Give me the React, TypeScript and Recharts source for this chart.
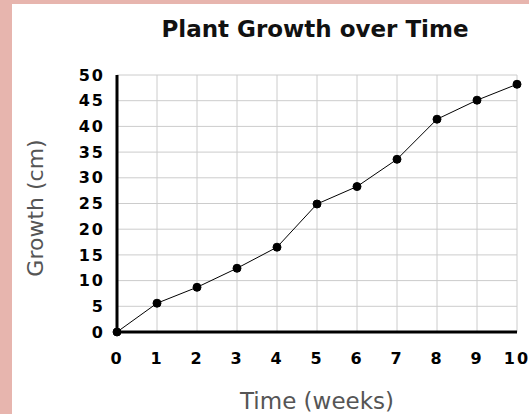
import React from 'react'
import { LineChart, Line, XAxis, YAxis, CartesianGrid } from 'recharts'

const WEEKS = [0, 1, 2, 3, 4, 5, 6, 7, 8, 9, 10]
const GROWTH = [0, 5.6, 8.7, 12.4, 16.5, 24.9, 28.3, 33.6, 41.4, 45.1, 48.2]
const X_TICKS = [0, 1, 2, 3, 4, 5, 6, 7, 8, 9, 10]
const Y_TICKS = [0, 5, 10, 15, 20, 25, 30, 35, 40, 45, 50]

const TITLE = 'Plant Growth over Time'
const X_LABEL = 'Time (weeks)'
const Y_LABEL = 'Growth (cm)'

const data = WEEKS.map((w, i) => ({ week: w, growth: GROWTH[i] }))

const tickStyle = {
  fill: '#000',
  fontFamily: 'DejaVu Sans',
  fontWeight: 'bold' as const,
  fontSize: 16,
  letterSpacing: 2,
}

export default function App() {
  return (
    <div
      style={{
        position: 'absolute',
        left: 0,
        top: 0,
        width: 529,
        height: 414,
        background: '#e7b5ae',
        overflow: 'hidden',
      }}
    >
      <div style={{ position: 'absolute', left: 12, top: 4, width: 517, height: 410, background: '#fff' }}>
        <LineChart width={517} height={410} data={data} margin={{ top: 71, right: 12, bottom: 42, left: 45 }}>
          <CartesianGrid stroke="#cccccc" strokeWidth={1} />
          <XAxis
            dataKey="week"
            type="number"
            domain={[0, 10]}
            ticks={X_TICKS}
            height={40}
            axisLine={{ stroke: '#000', strokeWidth: 3 }}
            tickLine={false}
            tickSize={0}
            tickMargin={21}
            tick={tickStyle}
            interval={0}
          />
          <YAxis
            type="number"
            domain={[0, 50]}
            ticks={Y_TICKS}
            width={60}
            axisLine={{ stroke: '#000', strokeWidth: 3 }}
            tickLine={false}
            tickSize={0}
            tickMargin={12}
            tick={tickStyle}
            interval={0}
          />
          <Line
            dataKey="growth"
            stroke="#000"
            strokeWidth={1}
            dot={{ r: 4, fill: '#000', stroke: '#000', strokeWidth: 1 }}
            isAnimationActive={false}
          />
        </LineChart>
      </div>
      <svg
        width={529}
        height={414}
        style={{ position: 'absolute', left: 0, top: 0, pointerEvents: 'none' }}
      >
        <text x={315} y={37} textAnchor="middle" fontFamily="DejaVu Sans" fontWeight="bold" fontSize={23} fill="#111">
          {TITLE}
        </text>
        <text x={317} y={409} textAnchor="middle" fontFamily="DejaVu Sans" fontSize={23} fill="#555">
          {X_LABEL}
        </text>
        <text
          x={43}
          y={208}
          textAnchor="middle"
          fontFamily="DejaVu Sans"
          fontSize={22}
          fill="#555"
          transform="rotate(-90 43 208)"
        >
          {Y_LABEL}
        </text>
      </svg>
    </div>
  )
}
